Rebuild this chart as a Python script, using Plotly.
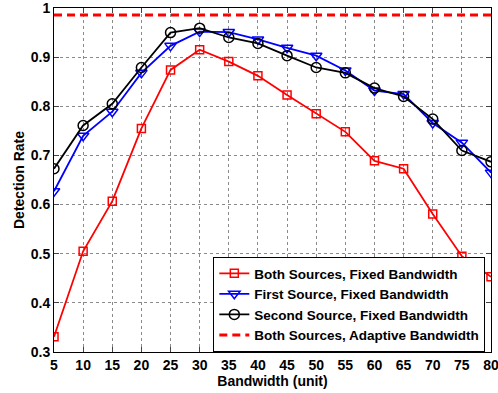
import plotly.graph_objects as go

bandwidth = [5, 10, 15, 20, 25, 30, 35, 40, 45, 50, 55, 60, 65, 70, 75, 80]
both_fixed = [0.331, 0.505, 0.607, 0.755, 0.874, 0.915, 0.891, 0.862, 0.823, 0.785,
              0.748, 0.689, 0.673, 0.581, 0.495, 0.453]
first_fixed = [0.627, 0.740, 0.789, 0.868, 0.923, 0.952, 0.951, 0.936, 0.919, 0.903,
               0.873, 0.832, 0.825, 0.766, 0.726, 0.665]
second_fixed = [0.673, 0.761, 0.805, 0.879, 0.950, 0.959, 0.940, 0.928, 0.903, 0.879,
                0.868, 0.837, 0.820, 0.774, 0.710, 0.687]
adaptive_level = 0.986

names = ["Both Sources, Fixed Bandwidth", "First Source, Fixed Bandwidth",
         "Second Source, Fixed Bandwidth", "Both Sources, Adaptive Bandwidth"]
x_ticks = list(range(5, 81, 5))
y_ticks = [0.3, 0.4, 0.5, 0.6, 0.7, 0.8, 0.9, 1.0]
y_ticktext = ["0.3", "0.4", "0.5", "0.6", "0.7", "0.8", "0.9", "1"]

FONT = "Liberation Sans, Arial, Helvetica, sans-serif"
BOLD = dict(family=FONT, size=14, color="black", weight="bold")

fig = go.Figure()
fig.add_trace(go.Scatter(x=bandwidth, y=both_fixed, name=names[0], mode="lines+markers",
                         line=dict(color="#ff0000", width=1.8),
                         marker=dict(symbol="square-open", size=8, color="#ff0000",
                                     line=dict(width=1.5, color="#ff0000"))))
fig.add_trace(go.Scatter(x=bandwidth, y=first_fixed, name=names[1], mode="lines+markers",
                         line=dict(color="#0000ff", width=1.8),
                         marker=dict(symbol="triangle-down-open", size=10, color="#0000ff",
                                     line=dict(width=1.5, color="#0000ff"))))
fig.add_trace(go.Scatter(x=bandwidth, y=second_fixed, name=names[2], mode="lines+markers",
                         line=dict(color="#000000", width=1.8),
                         marker=dict(symbol="circle-open", size=10, color="#000000",
                                     line=dict(width=1.5, color="#000000"))))
fig.add_trace(go.Scatter(x=[bandwidth[0], bandwidth[-1]], y=[adaptive_level, adaptive_level],
                         name=names[3], mode="lines",
                         line=dict(color="#ff0000", width=3, dash="8px,5px")))

fig.update_layout(
    width=498, height=393,
    margin=dict(l=54, r=6.5, t=8, b=40.5),
    paper_bgcolor="white", plot_bgcolor="white",
    font=BOLD,
    showlegend=True,
    legend=dict(x=0.987, y=0.0, xanchor="right", yanchor="bottom",
                bgcolor="white", bordercolor="black", borderwidth=1,
                font=dict(family=FONT, size=13.5, color="black", weight="bold"),
                tracegroupgap=0, itemwidth=30),
)
fig.update_xaxes(range=[5, 80], tickvals=x_ticks, ticks="inside", ticklen=5,
                 showline=True, linecolor="black", linewidth=1, mirror="ticks",
                 showgrid=True, gridcolor="#8a8a8a", gridwidth=1, griddash="dot",
                 zeroline=False, tickfont=BOLD, ticklabeloverflow="allow",
                 automargin=False,
                 title=dict(text="Bandwidth (unit)", standoff=0, font=BOLD))
fig.update_yaxes(range=[0.3, 1.0], tickvals=y_ticks, ticktext=y_ticktext,
                 ticks="inside", ticklen=5,
                 showline=True, linecolor="black", linewidth=1, mirror="ticks",
                 showgrid=True, gridcolor="#8a8a8a", gridwidth=1, griddash="dot",
                 zeroline=False, tickfont=BOLD, ticklabeloverflow="allow",
                 automargin=False,
                 title=dict(text="Detection Rate", standoff=2, font=BOLD))

fig.write_html("out.html")
